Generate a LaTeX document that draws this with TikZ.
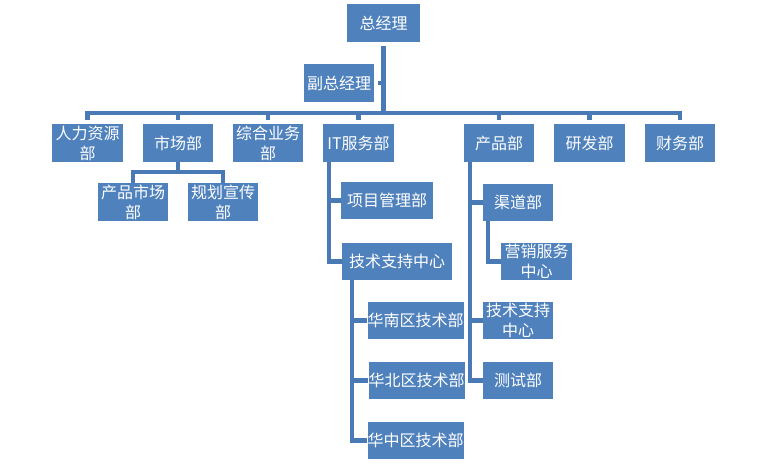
\documentclass[tikz,border=0pt]{standalone}
\usepackage{fontspec}
\setmainfont{Noto Sans CJK SC}
\definecolor{boxblue}{HTML}{4F81BD}
\definecolor{lineblue}{HTML}{4A7AB5}
\begin{document}
\begin{tikzpicture}[x=1pt,y=-1pt,
  box/.style={rectangle, fill=boxblue, text=white, inner sep=0pt, minimum height=38pt, minimum width=70pt, font=\fontsize{16}{20}\selectfont, align=center},
  conn/.style={draw=lineblue, line width=4.2pt}]
\useasboundingbox[fill=white] (0,0) rectangle (768,463);
% top
\node[box, minimum width=73pt] (gm) at (383.5,23) {总经理};
\node[box] (vgm) at (339,83) {副总经理};
% row 1
\node[box, minimum width=71pt] (hr) at (87.5,143) {人力资源\\部};
\node[box] (mkt) at (178,143) {市场部};
\node[box] (zh) at (268,143) {综合业务\\部};
\node[box, minimum width=71pt] (it) at (358.5,143) {IT服务部};
\node[box] (pd) at (499,143) {产品部};
\node[box, minimum width=71pt] (rd) at (589.5,143) {研发部};
\node[box] (fin) at (680,143) {财务部};
% market children
\node[box] (pm) at (133,202) {产品市场\\部};
\node[box] (gh) at (223,202) {规划宣传\\部};
% IT children
\node[box, minimum width=92pt, minimum height=37pt] (xm) at (387,200.5) {项目管理部};
\node[box, minimum width=110pt, minimum height=37pt] (js) at (397,261.5) {技术支持中心};
\node[box, minimum width=91pt, minimum height=37pt] (hn) at (415.5,320.5) {华南区技术部};
\node[box, minimum width=93pt, minimum height=37pt] (hb) at (416.5,380.5) {华北区技术部};
\node[box, minimum width=91pt, minimum height=37pt] (hz) at (415.5,440.5) {华中区技术部};
% product children
\node[box, minimum height=37pt] (qd) at (518,202.5) {渠道部};
\node[box, minimum width=71pt, minimum height=37pt] (yx) at (536.5,261.5) {营销服务\\中心};
\node[box, minimum height=37pt] (js2) at (518,320.5) {技术支持\\中心};
\node[box, minimum height=37pt] (cs) at (518,380.5) {测试部};
% helper coordinates
\coordinate (bary) at (0,113);
\coordinate (mbar) at (0,172);
\coordinate (itx) at (329,0);
\coordinate (jsx) at (352,0);
\coordinate (pdx) at (470,0);
\coordinate (qdx) at (488,0);
% main connectors
\draw[conn, shorten <=4pt] (gm.south) -- (gm.south |- bary);
\draw[conn, shorten <=4pt] (vgm.east) -- (vgm.east -| gm.south);
\foreach \c in {hr,mkt,zh,it,pd,rd,fin}{
  \draw[conn, shorten >=4pt] (gm.south |- bary) -| (\c.north);
}
% market
\foreach \c in {pm,gh}{
  \draw[conn] (mkt.south) -- (mkt.south |- mbar) -| (\c.north);
}
% IT
\foreach \c in {xm,js}{
  \draw[conn] (itx |- it.south) |- (\c.west);
}
\foreach \c in {hn,hb,hz}{
  \draw[conn] (jsx |- js.south) |- (\c.west);
}
% product
\foreach \c in {qd,js2,cs}{
  \draw[conn] (pdx |- pd.south) |- (\c.west);
}
\draw[conn] (qdx |- qd.south) |- (yx.west);
\end{tikzpicture}
\end{document}
